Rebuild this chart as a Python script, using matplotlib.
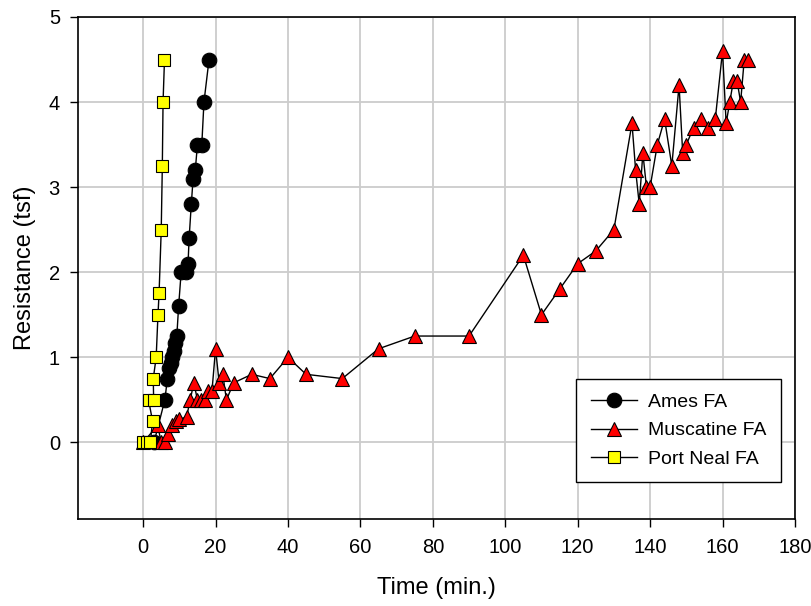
import matplotlib
matplotlib.use("Agg")
import matplotlib.pyplot as plt

plt.rcParams['font.family'] = ['Liberation Sans', 'DejaVu Sans']

# Ames FA
ames_t = [3, 6, 6.7, 7.2, 7.6, 8.0, 8.4, 8.8, 9.3, 9.8, 10.5, 11.8, 12.4, 12.7, 13.3, 13.8, 14.4, 15.0, 16.2, 16.8, 18.2]
ames_r = [0, 0.5, 0.75, 0.87, 0.93, 1.0, 1.08, 1.17, 1.25, 1.6, 2.0, 2.0, 2.1, 2.4, 2.8, 3.1, 3.2, 3.5, 3.5, 4.0, 4.5]

# Muscatine FA
musc_t = [0, 4, 5, 6, 7, 8, 9, 10, 12, 13, 14, 15, 16, 17, 18, 19, 20, 21, 22, 23, 25,
          30, 35, 40, 45, 55, 65, 75, 90, 105, 110, 115, 120, 125, 130,
          135, 136, 137, 138, 139, 140, 142, 144, 146, 148, 149, 150, 152, 154,
          156, 158, 160, 161, 162, 163, 164, 165, 166, 167]
musc_r = [0, 0.2, 0, 0, 0.1, 0.2, 0.25, 0.27, 0.3, 0.5, 0.7, 0.5, 0.5, 0.5, 0.6, 0.6, 1.1, 0.7, 0.8, 0.5, 0.7,
          0.8, 0.75, 1.0, 0.8, 0.75, 1.1, 1.25, 1.25, 2.2, 1.5, 1.8, 2.1, 2.25, 2.5,
          3.75, 3.2, 2.8, 3.4, 3.0, 3.0, 3.5, 3.8, 3.25, 4.2, 3.4, 3.5, 3.7, 3.8,
          3.7, 3.8, 4.6, 3.75, 4.0, 4.25, 4.25, 4.0, 4.5, 4.5]

# Port Neal FA
pn_t = [0, 1, 2, 2.6, 1.5, 2.9, 2.8, 3.6, 4.1, 4.4, 5.0, 5.3, 5.5, 5.9]
pn_r = [0, 0, 0, 0.25, 0.5, 0.5, 0.75, 1.0, 1.5, 1.75, 2.5, 3.25, 4.0, 4.5]

x_ticks = [0, 20, 40, 60, 80, 100, 120, 140, 160, 180]
y_ticks = [0, 1, 2, 3, 4, 5]

fig = plt.figure(figsize=(8.12, 6.06), dpi=100)
ax = fig.add_axes([0.096, 0.1436, 0.883, 0.8284])

ax.plot(ames_t, ames_r, color='black', lw=1.0, marker='o', ms=10.5,
        mfc='black', mec='black', mew=0.8, label='Ames FA', zorder=3)
ax.plot(musc_t, musc_r, color='black', lw=1.0, marker='^', ms=10,
        mfc='red', mec='black', mew=0.8, label='Muscatine FA', zorder=3)
ax.plot(pn_t, pn_r, color='black', lw=1.0, marker='s', ms=8.5,
        mfc='yellow', mec='black', mew=0.8, label='Port Neal FA', zorder=4)

ax.set_xlim(-18, 180)
ax.set_ylim(-0.9, 5)
ax.set_xticks(x_ticks)
ax.set_yticks(y_ticks)
ax.grid(True, color='#cccccc', lw=1.3, zorder=0)
ax.set_axisbelow(True)

ax.tick_params(axis='both', direction='out', length=6, width=1, labelsize=14.5,
               top=False, right=False)
ax.tick_params(axis='x', pad=8)
ax.tick_params(axis='y', pad=7)
for s in ax.spines.values():
    s.set_linewidth(1.2)
    s.set_color('black')

ax.set_xlabel('Time (min.)', fontsize=17, labelpad=14)
ax.set_ylabel('Resistance (tsf)', fontsize=17, labelpad=9)

leg = ax.legend(loc='upper left', bbox_to_anchor=(0.6946, 0.2789), fontsize=14,
                frameon=True, fancybox=False, framealpha=1, edgecolor='black',
                borderpad=0.75, borderaxespad=0, handlelength=2.37,
                handletextpad=0.57, labelspacing=0.55)
leg.get_frame().set_linewidth(1.0)

fig.savefig('out.png', dpi=100)
